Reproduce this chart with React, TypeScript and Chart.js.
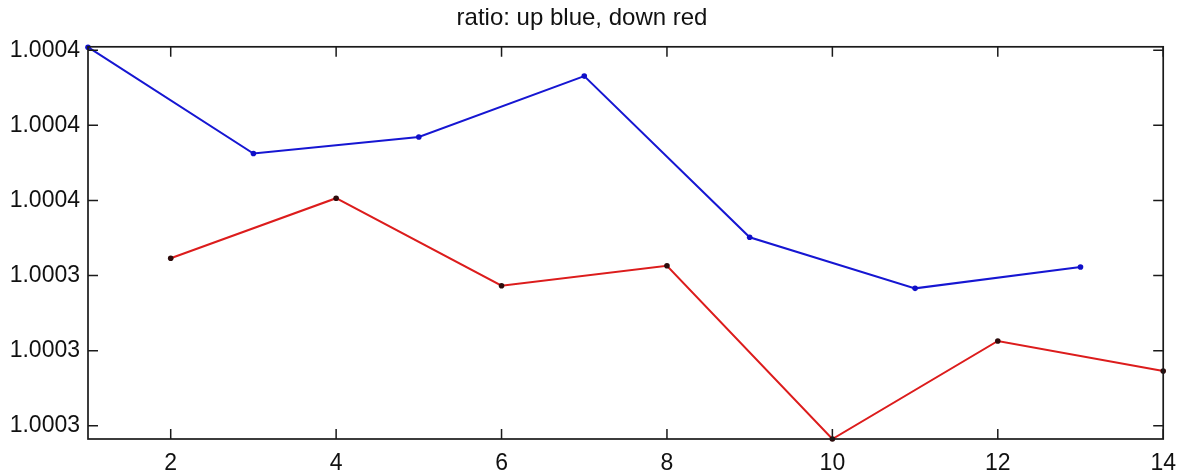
import React, { useEffect, useRef } from "react";
import { Chart, registerables } from "chart.js";

Chart.register(...registerables);

const TITLE = "ratio: up blue, down red";
const UP_X = [1, 3, 5, 7, 9, 11, 13];
const UP_Y = [1.0004008, 1.0003725, 1.0003769, 1.0003931, 1.0003502, 1.0003366, 1.0003423];
const DOWN_X = [2, 4, 6, 8, 10, 12, 14];
const DOWN_Y = [1.0003446, 1.0003606, 1.0003373, 1.0003426, 1.0002965, 1.0003226, 1.0003146];
const X_TICKS = [2, 4, 6, 8, 10, 12, 14];
const Y_TICKS = [1.0003, 1.00032, 1.00034, 1.00036, 1.00038, 1.0004];
const X_MIN = 1;
const X_MAX = 14;
const Y_MIN = 1.0002965;
const Y_MAX = 1.0004009;

const FONT = "'Liberation Sans', Arial, Helvetica, sans-serif";

const framePlugin = {
  id: "frameTicks",
  afterDatasetsDraw(chart: any) {
    const { ctx, chartArea: a, scales } = chart;
    const xs = scales.x;
    const ys = scales.y;
    ctx.save();
    ctx.strokeStyle = "#1a1a1a";
    ctx.lineWidth = 1.7;
    ctx.strokeRect(a.left, a.top, a.right - a.left, a.bottom - a.top);
    ctx.lineWidth = 1.5;
    const L = 10;
    ctx.beginPath();
    for (const t of xs.ticks) {
      const px = xs.getPixelForValue(t.value);
      ctx.moveTo(px, a.bottom);
      ctx.lineTo(px, a.bottom - L);
      ctx.moveTo(px, a.top);
      ctx.lineTo(px, a.top + L);
    }
    for (const t of ys.ticks) {
      const py = ys.getPixelForValue(t.value);
      ctx.moveTo(a.left, py);
      ctx.lineTo(a.left + L, py);
      ctx.moveTo(a.right, py);
      ctx.lineTo(a.right - L, py);
    }
    ctx.stroke();
    ctx.restore();
  },
};

export default function App() {
  const ref = useRef<HTMLCanvasElement>(null);
  useEffect(() => {
    document.body.style.margin = "0";
    const canvas = ref.current!;
    const chart = new Chart(canvas, {
      type: "line",
      data: {
        datasets: [
          {
            label: "up",
            data: UP_X.map((x, i) => ({ x, y: UP_Y[i] })),
            borderColor: "rgb(22,22,210)",
            backgroundColor: "rgb(22,22,210)",
            pointBackgroundColor: "rgb(15,15,200)",
            pointBorderColor: "rgb(15,15,200)",
            borderWidth: 2,
            pointRadius: 2.8,
            pointBorderWidth: 0,
            tension: 0,
            clip: false as any,
          },
          {
            label: "down",
            data: DOWN_X.map((x, i) => ({ x, y: DOWN_Y[i] })),
            borderColor: "rgb(220,28,28)",
            backgroundColor: "rgb(220,28,28)",
            pointBackgroundColor: "rgb(45,12,12)",
            pointBorderColor: "rgb(45,12,12)",
            borderWidth: 2,
            pointRadius: 2.8,
            pointBorderWidth: 0,
            tension: 0,
            clip: false as any,
          },
        ],
      },
      options: {
        animation: false,
        responsive: false,
        maintainAspectRatio: false,
        layout: { padding: { left: 0, right: 23, top: 0, bottom: 0 } },
        plugins: {
          legend: { display: false },
          tooltip: { enabled: false },
          title: {
            display: true,
            text: TITLE,
            color: "#111",
            font: { family: FONT, size: 24, weight: "normal" },
            padding: { top: 4, bottom: 14 },
          },
        },
        scales: {
          x: {
            type: "linear",
            min: X_MIN,
            max: X_MAX,
            afterBuildTicks: (s: any) => {
              s.ticks = X_TICKS.map((v) => ({ value: v }));
            },
            afterFit: (s: any) => {
              s.height = 37;
            },
            grid: { display: false, drawTicks: false },
            border: { display: false },
            ticks: {
              color: "#111",
              font: { family: FONT, size: 23 },
              padding: 11,
              maxRotation: 0,
              autoSkip: false,
              callback: (v: any) => String(v),
            },
          },
          y: {
            type: "linear",
            min: Y_MIN,
            max: Y_MAX,
            afterBuildTicks: (s: any) => {
              s.ticks = Y_TICKS.map((v) => ({ value: v }));
            },
            afterFit: (s: any) => {
              s.width = 88;
            },
            grid: { display: false, drawTicks: false },
            border: { display: false },
            ticks: {
              color: "#111",
              font: { family: FONT, size: 23 },
              padding: 8,
              autoSkip: false,
              callback: (v: any) => Number(v).toFixed(4),
            },
          },
        },
      },
      plugins: [framePlugin],
    });
    return () => chart.destroy();
  }, []);
  return (
    <div style={{ width: 1187, height: 476, background: "#fff" }}>
      <canvas ref={ref} width={1187} height={476} style={{ display: "block" }} />
    </div>
  );
}
